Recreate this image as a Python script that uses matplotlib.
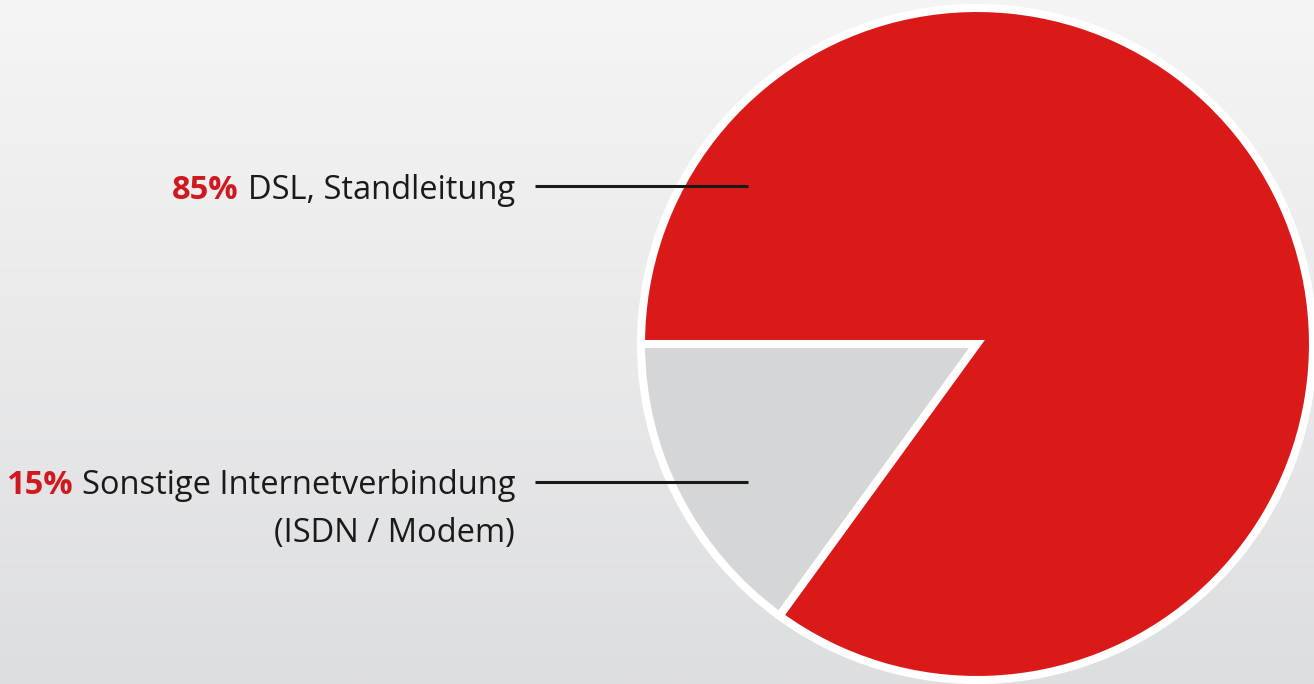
import matplotlib
matplotlib.use("Agg")
import matplotlib.pyplot as plt
import numpy as np

# Data
categories = ["Sonstige Internetverbindung\n(ISDN / Modem)", "DSL, Standleitung"]
shares = [15, 85]
pct_labels = ["15%", "85%"]
colors = ["#d5d6d8", "#d91a19"]

W, H = 1314, 684
fig = plt.figure(figsize=(W / 100, H / 100), dpi=100)
ax = fig.add_axes([0, 0, 1, 1])
ax.set_xlim(0, W)
ax.set_ylim(0, H)
ax.axis("off")

# background gradient
grad = np.linspace(0, 1, 256).reshape(-1, 1)
top = np.array([0xf5, 0xf5, 0xf5]) / 255
bot = np.array([0xdd, 0xde, 0xe0]) / 255
img = top + (bot - top) * grad[..., None]
ax.imshow(img, extent=[0, W, 0, H], aspect="auto", zorder=0, origin="upper")

cx, cy, r = 977, 340, 336
wedges, _ = ax.pie(shares, colors=colors, startangle=180, counterclock=True,
                   center=(cx, cy), radius=r, frame=True,
                   wedgeprops=dict(edgecolor="white", linewidth=5.8, joinstyle="miter"))
ax.set_xlim(0, W)
ax.set_ylim(0, H)
ax.set_aspect("auto")
ax.axis("off")

font = ["Open Sans", "DejaVu Sans"]
fs = 23.5
text_right = 515
txt_color = "#1a1a1a"
pct_color = "#d0191e"

fig.canvas.draw()
renderer = fig.canvas.get_renderer()

def label(y_base, pct, text):
    t = ax.text(text_right, y_base, text, ha="right", va="baseline",
                fontsize=fs, family=font, color=txt_color, zorder=5)
    bb = t.get_window_extent(renderer)
    xl = ax.transData.inverted().transform((bb.x0, 0))[0]
    ax.text(xl - 9, y_base, pct, ha="right", va="baseline", fontsize=fs,
            family=font, color=pct_color, fontweight="bold", zorder=5)

# line 1 (DSL)
label(H - 199, pct_labels[1], "DSL, Standleitung")
ax.plot([535, 748], [H - 186, H - 186], color=txt_color, lw=2.2, zorder=6,
        solid_capstyle="butt")
# line 2 (Sonstige)
label(H - 494, pct_labels[0], "Sonstige Internetverbindung")
ax.text(text_right, H - 542, "(ISDN / Modem)", ha="right", va="baseline",
        fontsize=fs, family=font, color=txt_color, zorder=5)
ax.plot([535, 748], [H - 482, H - 482], color=txt_color, lw=2.2, zorder=6,
        solid_capstyle="butt")

fig.savefig("out.png", dpi=100)
